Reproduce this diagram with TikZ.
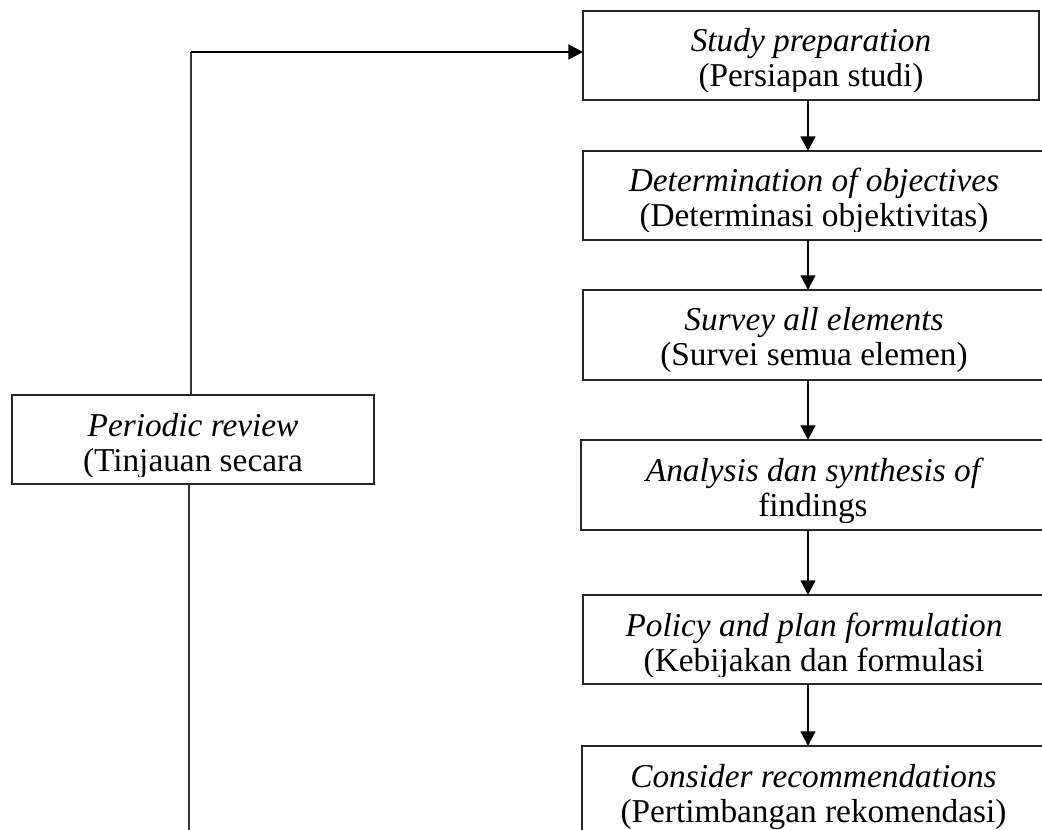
\documentclass[tikz,border=0pt]{standalone}
\usepackage{fontspec}
\setmainfont{Liberation Serif}
\usetikzlibrary{arrows.meta}
\tikzset{
  boxshape/.style={draw=black!85, line width=1pt, fill=none, inner sep=0pt, outer sep=0pt},
  boxtext/.style={anchor=base, inner sep=0pt, font=\fontsize{25}{26}\selectfont},
  flowarrow/.style={draw=black, line width=1.8pt, -{Triangle[length=11pt,width=11pt]}},
  thinline/.style={draw=black!80, line width=1.1pt}
}
% \flowbox{name}{x1}{y1}{x2}{y2}{italic line}{roman line}
\newcommand{\flowbox}[7]{%
  \path[boxshape] (#2,#3) rectangle (#4,#5);
  \node[inner sep=0pt, minimum width={(#4-#2)*0.75pt}, minimum height={(#5-#3)*0.75pt}] (#1) at ({(#2+#4)/2},{(#3+#5)/2}) {};
  \begin{scope}
    \clip (#2,#3) rectangle (#4,{#5-8});
    \node[boxtext] (#1a) at ({(#2+#4)/2},{#3+41}) {\itshape #6};
    \node[boxtext] (#1b) at ({(#2+#4)/2},{#3+76}) {#7};
  \end{scope}
}
\begin{document}
\begin{tikzpicture}[x=0.75pt,y=-0.75pt]
\clip (0,0) rectangle (1042,830);
\fill[white] (0,0) rectangle (1042,830);

\flowbox{b1}{583}{11}{1039}{100}{Study preparation}{(Persiapan studi)}
\flowbox{b2}{583}{151}{1045}{240}{Determination of objectives}{(Determinasi objektivitas)}
\flowbox{b3}{583}{290}{1045}{380}{Survey all elements}{(Survei semua elemen)}
\flowbox{b4}{581}{440}{1045}{530}{Analysis dan synthesis of}{findings}
\flowbox{b5}{583}{595}{1045}{684}{Policy and plan formulation}{(Kebijakan dan formulasi}
\flowbox{b6}{582}{746}{1045}{840}{Consider recommendations}{(Pertimbangan rekomendasi)}
\flowbox{pr}{12}{395}{374}{484}{Periodic review}{(Tinjauan secara}

\coordinate (corner) at (191,52);
\coordinate (target) at (583,52);
\coordinate (bottomend) at (189,832);

\draw[flowarrow] (808,100) -- (808,151);
\draw[flowarrow] (808,240) -- (808,290);
\draw[flowarrow] (808,380) -- (808,440);
\draw[flowarrow] (808,530) -- (808,595);
\draw[flowarrow] (808,684) -- (808,746);

\draw[thinline] (191,395) -- (corner);
\draw[flowarrow, line width=2pt] (corner) -- (target);
\draw[thinline] (189,484) -- (bottomend);
\end{tikzpicture}
\end{document}
